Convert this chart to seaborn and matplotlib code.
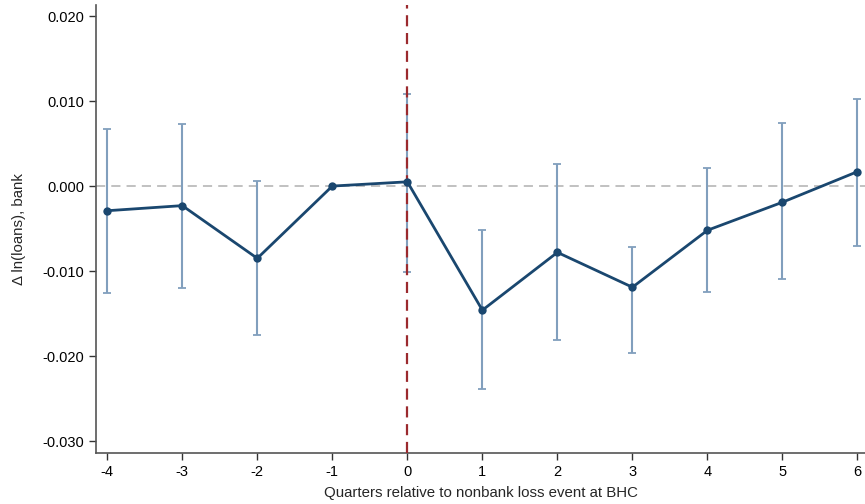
import matplotlib
matplotlib.use("Agg")
import matplotlib.pyplot as plt
import seaborn as sns
import pandas as pd
import numpy as np

quarters = [-4, -3, -2, -1, 0, 1, 2, 3, 4, 5, 6]
coef = [-0.0029, -0.0023, -0.0085, 0.0, 0.0005, -0.0146, -0.0078, -0.0119, -0.0052, -0.0019, 0.0017]
ci_low = [-0.0126, -0.0120, -0.0175, np.nan, -0.0101, -0.0239, -0.0181, -0.0196, -0.0125, -0.0109, -0.0070]
ci_high = [0.0067, 0.0073, 0.0006, np.nan, 0.0108, -0.0052, 0.0026, -0.0072, 0.0021, 0.0074, 0.0103]
yticks = [0.020, 0.010, 0.000, -0.010, -0.020, -0.030]
ytick_labels = ["0.020", "0.010", "0.000", "-0.010", "-0.020", "-0.030"]

df = pd.DataFrame({"q": quarters, "b": coef, "lo": ci_low, "hi": ci_high})

sns.set_style("ticks")
plt.rcParams["font.family"] = ["Liberation Sans", "DejaVu Sans"]

fig = plt.figure(figsize=(8.65, 5.04), dpi=100)
ax = fig.add_axes([96/865, 1-453/504, 769/865, 448/504])

line_col = "#1a476f"
ci_col = "#819fbd"

ax.axhline(0, color="#b0b0b0", lw=1.1, ls=(0, (6, 4)), zorder=1)

ci = df.dropna()
ax.errorbar(ci["q"], ci["b"], yerr=[ci["b"] - ci["lo"], ci["hi"] - ci["b"]],
            fmt="none", ecolor=ci_col, elinewidth=1.5, capsize=2.6, capthick=1.3, zorder=2)

ax.axvline(0, color="#9b2a2e", lw=1.6, ls=(0, (5, 3)), zorder=3)

sns.lineplot(data=df, x="q", y="b", ax=ax, color=line_col, lw=2, marker="o",
             markersize=6, markeredgewidth=0, zorder=4)

ax.set_xlim(-4.15, 6.1)
ax.set_ylim(-0.0314, 0.0213)
ax.set_xticks(quarters)
ax.set_xticklabels([str(q) for q in quarters])
ax.set_yticks(yticks)
ax.set_yticklabels(ytick_labels)
ax.tick_params(axis="both", labelsize=10.5, length=5, width=1, color="#333333", labelcolor="#000000")
for s in ["top", "right"]:
    ax.spines[s].set_visible(False)
for s in ["left", "bottom"]:
    ax.spines[s].set_color("#555555")
    ax.spines[s].set_linewidth(1.2)

ax.set_xlabel("Quarters relative to nonbank loss event at BHC", fontsize=10.8, labelpad=5)
ax.set_ylabel("Δ ln(loans), bank", fontsize=10.8, labelpad=12)

fig.savefig("out.png", dpi=100)
